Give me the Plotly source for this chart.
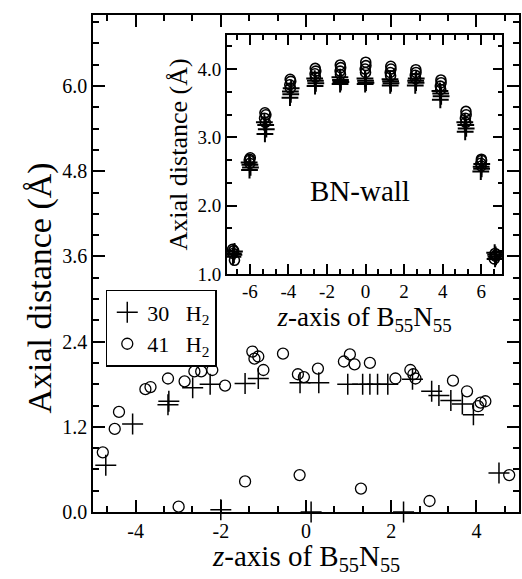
import plotly.graph_objects as go

# ---- main panel data ----
main30_x = [-4.70, -4.07, -3.24, -3.22, -2.66, -2.25, -2.00, -1.43, -1.12, -0.14, 0.12, 0.30,
            0.98, 1.33, 1.50, 1.68, 1.92, 2.29, 2.50, 2.95, 3.12, 3.40, 3.67, 3.93, 4.53]
main30_y = [0.66, 1.24, 1.51, 1.56, 1.75, 1.80, 0.03, 1.81, 1.88, 1.82, 0.00, 1.82,
            1.80, 1.80, 1.80, 1.80, 1.80, 0.00, 1.87, 1.70, 1.64, 1.57, 1.52, 1.37, 0.55]
main41_x = [-4.77, -4.49, -4.39, -3.77, -3.65, -3.24, -2.99, -2.85, -2.62, -2.46, -2.20, -1.90,
            -1.43, -1.26, -1.21, -1.12, -1.00, -0.54, -0.19, -0.15, -0.05, 0.28, 0.89, 1.03,
            1.14, 1.29, 1.50, 2.10, 2.45, 2.52, 2.57, 2.90, 3.45, 3.78, 4.04, 4.10, 4.21, 4.77]
main41_y = [0.84, 1.17, 1.41, 1.73, 1.76, 1.88, 0.075, 1.84, 1.98, 1.98, 2.00, 1.78,
            0.43, 2.26, 2.16, 2.19, 2.00, 2.23, 1.94, 0.52, 1.90, 2.02, 2.12, 2.22,
            2.08, 0.33, 2.10, 1.88, 2.00, 1.94, 1.88, 0.155, 1.85, 1.70, 1.49, 1.54, 1.56, 0.52]

main_xticks = [-4, -2, 0, 2, 4]
main_xticktext = ["-4", "-2", "0", "2", "4"]

# ---- inset (BN-wall) data ----
inset30_x = [-6.88, -6.83, -6.86, -6.80,
             -6.02, -5.97, -6.00, -6.04,
             -5.22, -5.15, -5.18, -5.25,
             -3.92, -3.88, -3.90, -3.86,
             -2.62, -2.58, -2.60, -2.64,
             -1.32, -1.28, -1.30, -1.33,
             -0.02, 0.02, 0.00, -0.03,
             1.28, 1.32, 1.30, 1.27,
             2.58, 2.62, 2.60, 2.63,
             3.88, 3.92, 3.90, 3.86,
             5.17, 5.22, 5.20, 5.15,
             5.98, 6.02, 6.00, 6.03,
             6.72, 6.77, 6.75, 6.70]
inset30_y = [1.25, 1.28, 1.30, 1.33,
             2.52, 2.56, 2.60, 2.63,
             3.05, 3.12, 3.18, 3.22,
             3.58, 3.63, 3.67, 3.72,
             3.75, 3.79, 3.83, 3.86,
             3.78, 3.81, 3.84, 3.88,
             3.78, 3.80, 3.83, 3.86,
             3.76, 3.79, 3.82, 3.85,
             3.76, 3.80, 3.83, 3.86,
             3.55, 3.60, 3.64, 3.68,
             3.08, 3.13, 3.18, 3.22,
             2.50, 2.54, 2.57, 2.61,
             1.22, 1.25, 1.28, 1.31]
inset41_x = [-6.80, -6.87, -6.84, -6.90,
             -6.00, -6.03, -5.98, -6.02,
             -5.20, -5.24, -5.17, -5.22,
             -3.90, -3.93, -3.88, -3.91,
             -2.60, -2.62, -2.58, -2.61,
             -1.30, -1.32, -1.29, -1.31,
             0.00, -0.02, 0.02, 0.01,
             1.30, 1.28, 1.32, 1.31,
             2.60, 2.58, 2.62, 2.61,
             3.90, 3.88, 3.92, 3.91,
             5.20, 5.18, 5.22, 5.21,
             6.00, 5.98, 6.02, 6.01,
             6.68, 6.74, 6.78, 6.72]
inset41_y = [1.20, 1.30, 1.34, 1.36,
             2.62, 2.66, 2.70, 2.68,
             3.22, 3.28, 3.33, 3.36,
             3.72, 3.77, 3.82, 3.85,
             3.88, 3.93, 3.97, 4.01,
             3.92, 3.97, 4.02, 4.06,
             3.95, 4.00, 4.05, 4.10,
             3.90, 3.95, 4.00, 4.04,
             3.86, 3.91, 3.95, 3.99,
             3.70, 3.75, 3.80, 3.84,
             3.22, 3.28, 3.33, 3.38,
             2.58, 2.62, 2.66, 2.68,
             1.22, 1.26, 1.28, 1.30]

inset_xticks = [-6, -4, -2, 0, 2, 4, 6]
inset_xticktext = ["-6", "-4", "-2", "0", "2", "4", "6"]

NB = "\u00a0"
series_names = ["30" + NB * 3 + "H<sub>2</sub>", "41" + NB * 3 + "H<sub>2</sub>"]

FONT = "Liberation Serif"
fig = go.Figure()

plus_marker = dict(symbol="cross-thin-open", size=15, color="black", line=dict(color="black", width=1.5))
circ_marker = dict(symbol="circle-open", size=11, color="black", line=dict(color="black", width=1.3))

fig.add_trace(go.Scatter(x=main30_x, y=main30_y, mode="markers", name=series_names[0],
                         marker=plus_marker, cliponaxis=False))
fig.add_trace(go.Scatter(x=main41_x, y=main41_y, mode="markers", name=series_names[1],
                         marker=circ_marker, cliponaxis=False))

fig.add_trace(go.Scatter(x=inset30_x, y=inset30_y, mode="markers", showlegend=False,
                         xaxis="x2", yaxis="y2",
                         marker=dict(symbol="cross-thin-open", size=12, color="black",
                                     line=dict(color="black", width=2))))
fig.add_trace(go.Scatter(x=inset41_x, y=inset41_y, mode="markers", showlegend=False,
                         xaxis="x2", yaxis="y2",
                         marker=dict(symbol="circle-open", size=10, color="black",
                                     line=dict(color="black", width=1.6))))

axis_common = dict(showline=True, linecolor="black", linewidth=1.5, mirror="ticks",
                   ticks="inside", tickcolor="black", tickwidth=1.5, showgrid=False,
                   zeroline=False)

fig.update_layout(
    width=522, height=579,
    margin=dict(l=93, r=1, t=15, b=67),
    paper_bgcolor="white", plot_bgcolor="white",
    font=dict(family=FONT, color="black"),
    xaxis=dict(range=[-5, 5], tickvals=main_xticks, ticktext=main_xticktext, ticklen=12,
               minor=dict(dtick=2/3, tick0=0, ticklen=6, ticks="inside", tickcolor="black", tickwidth=1.5),
               tickfont=dict(size=20, family=FONT),
               **axis_common),
    yaxis=dict(range=[0, 7.0], tick0=0, dtick=1.2, tickformat=".1f", ticklen=12,
               minor=dict(dtick=0.3, tick0=0, ticklen=6, ticks="inside", tickcolor="black", tickwidth=1.5),
               tickfont=dict(size=20, family=FONT),
               **axis_common),
    xaxis2=dict(domain=[0.314, 0.961], anchor="y2", range=[-7.2, 7.1],
                tickvals=inset_xticks, ticktext=inset_xticktext, ticklen=10,
                minor=dict(dtick=2/3, tick0=0, ticklen=5, ticks="inside", tickcolor="black", tickwidth=1.5),
                tickfont=dict(size=19, family=FONT),
                title=dict(text="<i>z</i>-axis of B<sub>55</sub>N<sub>55</sub>",
                           font=dict(size=27, family=FONT), standoff=0),
                **axis_common),
    yaxis2=dict(domain=[0.479, 0.960], anchor="x2", range=[1.0, 4.5], tick0=0, dtick=1,
                tickformat=".1f", ticklen=10,
                minor=dict(dtick=1/3, tick0=0, ticklen=5, ticks="inside", tickcolor="black", tickwidth=1.5),
                tickfont=dict(size=19, family=FONT),
                title=dict(text="Axial distance (Å)", font=dict(size=26, family=FONT), standoff=2),
                **axis_common),
    legend=dict(x=0.03, y=0.447, xanchor="left", yanchor="top",
                bordercolor="black", borderwidth=1.5, bgcolor="white",
                font=dict(size=22, family=FONT), itemsizing="trace",
                tracegroupgap=0),
    showlegend=True,
    annotations=[
        dict(text="BN-wall", x=-0.3, y=2.22, xref="x2", yref="y2",
             showarrow=False, font=dict(size=29, family=FONT)),
        dict(text="Axial distance (Å)", x=-0.124, y=0.45, xref="paper", yref="paper",
             xanchor="center", yanchor="middle", textangle=-90, showarrow=False,
             font=dict(size=34, family=FONT)),
        dict(text="<i>z</i>-axis of B<sub>55</sub>N<sub>55</sub>", x=0.5, y=0, xref="paper",
             yref="paper", xanchor="center", yanchor="middle", yshift=-46,
             showarrow=False, font=dict(size=29, family=FONT)),
    ],
)

fig.write_html("out.html")
